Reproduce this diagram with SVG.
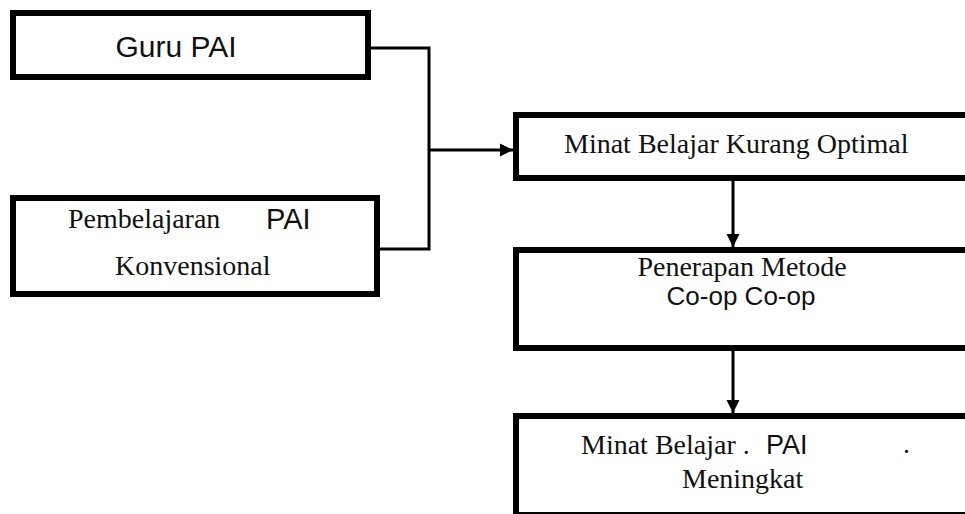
<svg xmlns="http://www.w3.org/2000/svg" width="965" height="514" viewBox="0 0 965 514">
<style>
.box{fill:#fff;stroke:#000;stroke-width:6}
.serif{font-family:"Liberation Serif","Times New Roman",serif;font-size:28px;fill:#111}
.sans{font-family:"Liberation Sans",Arial,sans-serif;fill:#111}
.conn{fill:none;stroke:#000;stroke-width:3}
</style>
<defs>
<marker id="arr" viewBox="0 0 10 10" refX="10" refY="5" markerWidth="4.5" markerHeight="4.5" orient="auto" markerUnits="strokeWidth">
<path d="M0,0 L10,5 L0,10 z" fill="#000"/>
</marker>
</defs>
<rect width="965" height="514" fill="#fff"/>
<g id="connectors">
<polyline class="conn" points="371,48 429,48 429,249 380,249"/>
<line class="conn" x1="429" y1="150" x2="513" y2="150" marker-end="url(#arr)"/>
<line class="conn" x1="733" y1="181" x2="733" y2="247" marker-end="url(#arr)"/>
<line class="conn" x1="733" y1="351" x2="733" y2="413" marker-end="url(#arr)"/>
</g>
<g id="guru-pai">
<rect class="box" x="13" y="13" width="355" height="64"/>
<text class="sans" x="176" y="57" font-size="30" text-anchor="middle">Guru PAI</text>
</g>
<g id="pembelajaran">
<rect class="box" x="13" y="198" width="364" height="96"/>
<text class="serif" x="68" y="228">Pembelajaran</text>
<text class="sans" x="266" y="229" font-size="29">PAI</text>
<text class="serif" x="115" y="275">Konvensional</text>
</g>
<g id="minat-kurang">
<rect class="box" x="516" y="115" width="460" height="63"/>
<text class="serif" x="564" y="153" font-size="30">Minat Belajar Kurang Optimal</text>
</g>
<g id="penerapan">
<rect class="box" x="516" y="250" width="460" height="98"/>
<text class="serif" x="742" y="276" text-anchor="middle" font-size="30">Penerapan Metode</text>
<text class="sans" x="741" y="305" text-anchor="middle" font-size="26">Co-op Co-op</text>
</g>
<g id="minat-meningkat">
<rect class="box" x="516" y="416" width="460" height="99"/>
<text class="serif" x="581" y="454">Minat Belajar .</text>
<text class="sans" x="766" y="454" font-size="27">PAI</text>
<text class="serif" x="903" y="453" font-size="8" fill="#bbb">.</text>
<text class="serif" x="682" y="488">Meningkat</text>
</g>
</svg>
